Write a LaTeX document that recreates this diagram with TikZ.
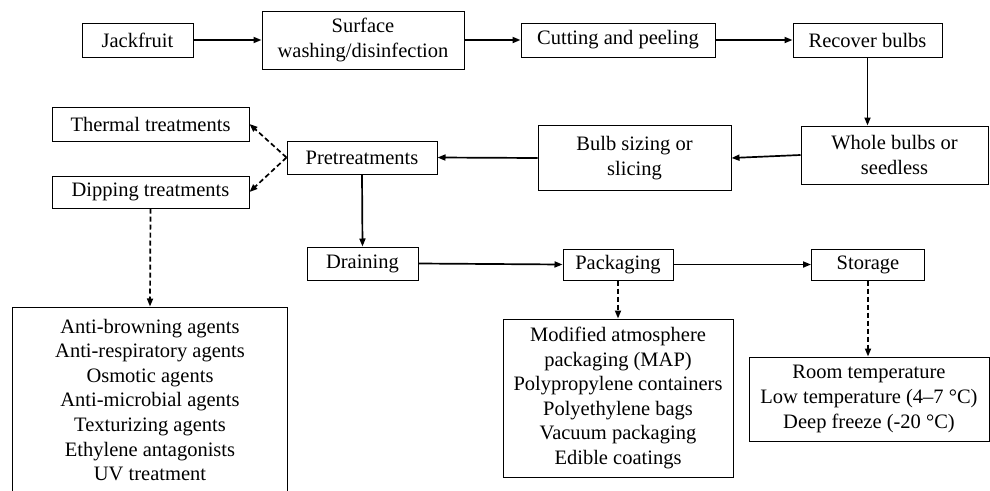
\documentclass[tikz,border=0pt]{standalone}
\usepackage{fontspec}
\setmainfont{Liberation Serif}
\usetikzlibrary{arrows.meta}
\tikzset{
  box/.style={draw, line width=1pt, rectangle, inner sep=0pt, align=center,
    font=\fontsize{20.5}{24.6}\selectfont},
  flow/.style={line width=1.7pt, -{Triangle[length=8pt,width=6pt]}},
  opt/.style={line width=1.7pt, dash pattern=on 5pt off 3pt, -{Triangle[length=8pt,width=6pt]}}
}
\begin{document}
\begin{tikzpicture}[x=1pt,y=-1pt]
\useasboundingbox (0,0) rectangle (990,490);
\clip (0,0) rectangle (990,490);
\node[box, minimum width=111pt, minimum height=34pt] (jack) at (137.5,40) {Jackfruit};
\node[box, minimum width=202pt, minimum height=58pt] (surf) at (363,40) {Surface\\washing/disinfection};
\node[box, minimum width=194pt, minimum height=34pt] (cut) at (618,40) {Cutting and peeling};
\node[box, minimum width=149pt, minimum height=34pt] (rec) at (867.5,40) {Recover bulbs};
\node[box, minimum width=187pt, minimum height=58pt] (whole) at (894.5,155) {Whole bulbs or\\seedless};
\node[box, minimum width=193pt, minimum height=65pt] (bulb) at (634.5,158) {Bulb sizing or\\slicing};
\node[box, minimum width=150pt, minimum height=33pt] (pre) at (362,157.5) {Pretreatments};
\node[box, minimum width=197pt, minimum height=34pt] (therm) at (150.5,124) {Thermal treatments};
\node[box, minimum width=197pt, minimum height=32pt] (dip) at (150.5,192) {Dipping treatments};
\node[box, minimum width=111pt, minimum height=33pt] (drain) at (362.5,263.5) {Draining};
\node[box, minimum width=110pt, minimum height=31pt] (pack) at (618,264.5) {Packaging};
\node[box, minimum width=113pt, minimum height=31pt] (stor) at (868,264.5) {Storage};
\node[box, minimum width=275pt, minimum height=186pt] (agents) at (150,400)
  {Anti-browning agents\\Anti-respiratory agents\\Osmotic agents\\Anti-microbial agents\\Texturizing agents\\Ethylene antagonists\\UV treatment};
\node[box, minimum width=230pt, minimum height=158pt] (map) at (618,398)
  {Modified atmosphere\\packaging (MAP)\\Polypropylene containers\\Polyethylene bags\\Vacuum packaging\\Edible coatings};
\node[box, minimum width=240pt, minimum height=84pt] (temps) at (869,399)
  {Room temperature\\Low temperature (4–7 °C)\\Deep freeze (-20 °C)};
\draw[flow] (jack) -- (surf);
\draw[flow] (surf) -- (cut);
\draw[flow] (cut) -- (rec);
\draw[flow] (rec.south) -- (rec.south |- whole.north);
\draw[flow] (whole.west) -- (bulb.east);
\draw[flow] (bulb.west) -- (pre.east);
\draw[opt] (pre.west) -- (therm.east);
\draw[opt] (pre.west) -- (dip.east);
\draw[flow] (pre.south) -- (drain.north);
\draw[opt] (dip.south) -- (agents.north);
\draw[flow] (drain.east) -- (pack.west);
\draw[flow] (pack.east) -- (stor.west);
\draw[opt] (pack.south) -- (map.north);
\draw[opt] (stor.south) -- (stor.south |- temps.north);
\end{tikzpicture}
\end{document}
